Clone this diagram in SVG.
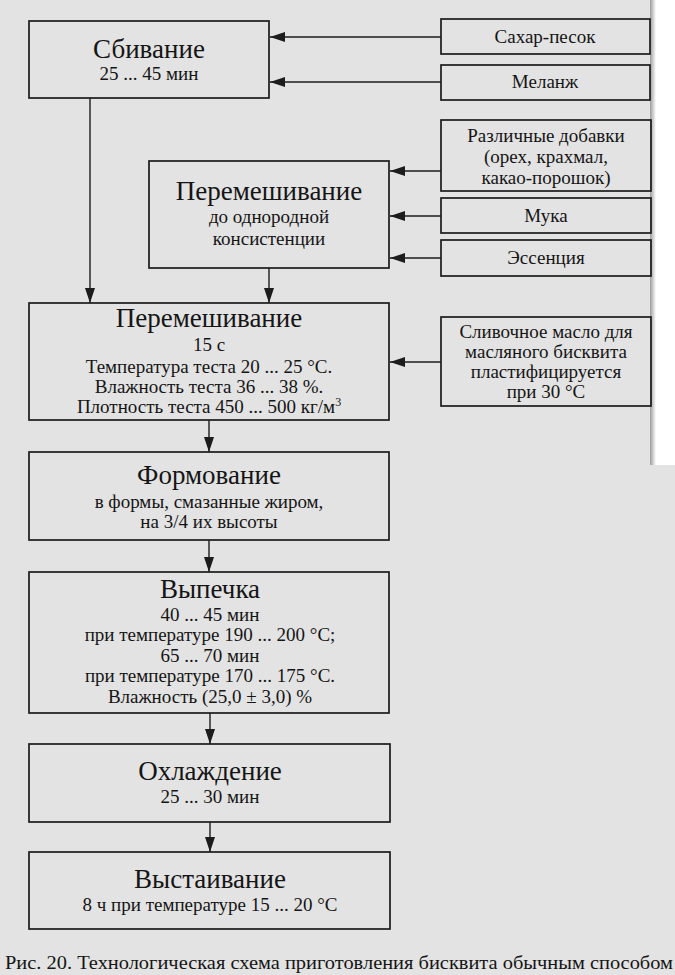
<svg xmlns="http://www.w3.org/2000/svg" width="675" height="975" viewBox="0 0 675 975">
<style>
.box{fill:none;stroke:#1c1c1c;stroke-width:1.7}
.c{stroke:#1c1c1c;stroke-width:1.4;fill:none;marker-end:url(#ah)}
text{font-family:'Liberation Serif','Times New Roman','DejaVu Serif',serif;text-anchor:middle;fill:#151515}
.ti{font-size:27px}
.s{font-size:19px}
</style>
<defs>
<marker id="ah" markerUnits="userSpaceOnUse" markerWidth="15" markerHeight="10" refX="15" refY="5" orient="auto">
<path d="M0,0 L15,5 L0,10 z" fill="#1c1c1c"/>
</marker>
<linearGradient id="edge" x1="0" y1="0" x2="1" y2="0">
<stop offset="0" stop-color="#9a9a9a"/>
<stop offset="1" stop-color="#ffffff"/>
</linearGradient>
</defs>
<rect x="0" y="0" width="675" height="975" fill="#e3e3e3"/>
<rect x="652" y="0" width="23" height="465" fill="#ffffff"/>
<rect x="650" y="0" width="6" height="465" fill="url(#edge)"/>

<g id="connectors">
<line class="c" x1="441" y1="37" x2="270" y2="37"/>
<line class="c" x1="441" y1="82" x2="270" y2="82"/>
<line class="c" x1="441" y1="171" x2="390" y2="171"/>
<line class="c" x1="441" y1="216" x2="390" y2="216"/>
<line class="c" x1="441" y1="258" x2="390" y2="258"/>
<line class="c" x1="441" y1="362" x2="390" y2="362"/>
<line class="c" x1="90" y1="98" x2="90" y2="303"/>
<line class="c" x1="269" y1="268" x2="269" y2="303"/>
<line class="c" x1="209" y1="420" x2="209" y2="452"/>
<line class="c" x1="209" y1="540" x2="209" y2="572"/>
<line class="c" x1="210" y1="713" x2="210" y2="744"/>
<line class="c" x1="210" y1="822" x2="210" y2="852"/>
</g>

<g id="sbivanie">
<rect class="box" x="29" y="21" width="240" height="77"/>
<text class="ti" x="149" y="58">Сбивание</text>
<text class="s" x="149" y="80">25 ... 45 мин</text>
</g>

<g id="sahar">
<rect class="box" x="441" y="19" width="209" height="35"/>
<text class="s" x="545" y="43">Сахар-песок</text>
</g>

<g id="melanzh">
<rect class="box" x="441" y="65" width="209" height="35"/>
<text class="s" x="545" y="88">Меланж</text>
</g>

<g id="dobavki">
<rect class="box" x="441" y="120" width="210" height="71"/>
<text class="s" x="546" y="142">Различные добавки</text>
<text class="s" x="546" y="163">(орех, крахмал,</text>
<text class="s" x="546" y="184">какао-порошок)</text>
</g>

<g id="muka">
<rect class="box" x="441" y="198" width="210" height="35"/>
<text class="s" x="546" y="222">Мука</text>
</g>

<g id="essenciya">
<rect class="box" x="441" y="240" width="210" height="36"/>
<text class="s" x="546" y="264">Эссенция</text>
</g>

<g id="peremeshivanie1">
<rect class="box" x="149" y="161" width="240" height="107"/>
<text class="ti" x="269" y="200">Перемешивание</text>
<text class="s" x="269" y="223">до однородной</text>
<text class="s" x="269" y="245">консистенции</text>
</g>

<g id="peremeshivanie2">
<rect class="box" x="29" y="303" width="360" height="117"/>
<text class="ti" x="209" y="327">Перемешивание</text>
<text class="s" x="209" y="351">15 с</text>
<text class="s" x="209" y="373">Температура теста 20 ... 25 °C.</text>
<text class="s" x="209" y="393">Влажность теста 36 ... 38 %.</text>
<text class="s" x="209" y="413">Плотность теста 450 ... 500 кг/м<tspan font-size="12" dy="-7">3</tspan></text>
</g>

<g id="slivochnoe">
<rect class="box" x="441" y="317" width="210" height="89"/>
<text class="s" x="546" y="338">Сливочное масло для</text>
<text class="s" x="546" y="358">масляного бисквита</text>
<text class="s" x="546" y="378">пластифицируется</text>
<text class="s" x="546" y="398">при 30 °C</text>
</g>

<g id="formovanie">
<rect class="box" x="29" y="452" width="360" height="88"/>
<text class="ti" x="209" y="484">Формование</text>
<text class="s" x="209" y="508">в формы, смазанные жиром,</text>
<text class="s" x="209" y="528">на 3/4 их высоты</text>
</g>

<g id="vypechka">
<rect class="box" x="29" y="572" width="360" height="141"/>
<text class="ti" x="210" y="598">Выпечка</text>
<text class="s" x="210" y="621">40 ... 45 мин</text>
<text class="s" x="210" y="641">при температуре 190 ... 200 °C;</text>
<text class="s" x="210" y="662">65 ... 70 мин</text>
<text class="s" x="210" y="682">при температуре 170 ... 175 °C.</text>
<text class="s" x="210" y="703">Влажность (25,0 ± 3,0) %</text>
</g>

<g id="ohlazhdenie">
<rect class="box" x="29" y="744" width="361" height="78"/>
<text class="ti" x="210" y="780">Охлаждение</text>
<text class="s" x="210" y="803">25 ... 30 мин</text>
</g>

<g id="vystaivanie">
<rect class="box" x="29" y="852" width="361" height="77"/>
<text class="ti" x="210" y="888">Выстаивание</text>
<text class="s" x="210" y="911">8 ч при температуре 15 ... 20 °C</text>
</g>

<text id="caption" class="s" x="339" y="969" textLength="668" lengthAdjust="spacingAndGlyphs">Рис. 20. Технологическая схема приготовления бисквита обычным способом</text>
</svg>
